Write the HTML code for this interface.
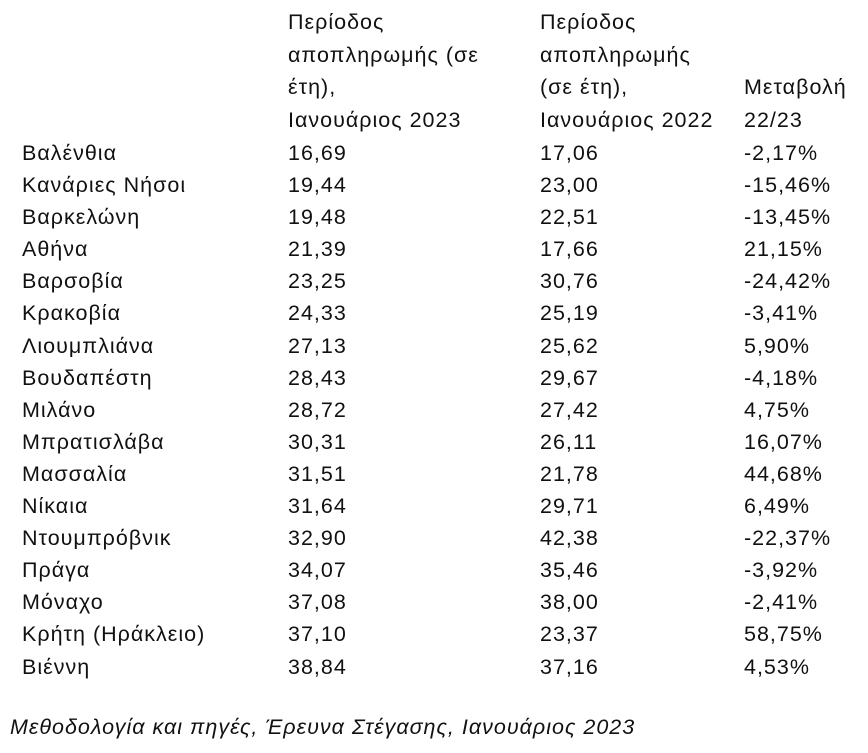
<!DOCTYPE html>
<html><head><meta charset="utf-8"><style>
html,body{margin:0;padding:0;background:#fff;width:868px;height:753px;overflow:hidden}
body{position:relative;font-family:"Liberation Sans","DejaVu Sans",sans-serif;font-size:21.5px;letter-spacing:1px;color:#111}
.t{position:absolute;white-space:nowrap;line-height:32px}
.h{line-height:32.5px}
.rows{position:absolute;top:137px;left:0;width:868px}
.r{height:32.1px;line-height:32px;position:relative}
.r span{position:absolute;white-space:nowrap}
.c1{left:22px}.c2{left:288px}.c3{left:540px}.c4{left:744px}
.f{position:absolute;left:10px;top:711px;font-style:italic;line-height:32px}
</style></head><body>
<div class="t h" style="left:288px;top:6px">Περίοδος<br>αποπληρωμής (σε<br>έτη),<br>Ιανουάριος 2023</div>
<div class="t h" style="left:540px;top:6px">Περίοδος<br>αποπληρωμής<br>(σε έτη),<br>Ιανουάριος 2022</div>
<div class="t h" style="left:744px;top:71px">Μεταβολή<br>22/23</div>
<div class="rows">
<div class="r"><span class="c1">Βαλένθια</span><span class="c2">16,69</span><span class="c3">17,06</span><span class="c4">-2,17%</span></div>
<div class="r"><span class="c1">Κανάριες Νήσοι</span><span class="c2">19,44</span><span class="c3">23,00</span><span class="c4">-15,46%</span></div>
<div class="r"><span class="c1">Βαρκελώνη</span><span class="c2">19,48</span><span class="c3">22,51</span><span class="c4">-13,45%</span></div>
<div class="r"><span class="c1">Αθήνα</span><span class="c2">21,39</span><span class="c3">17,66</span><span class="c4">21,15%</span></div>
<div class="r"><span class="c1">Βαρσοβία</span><span class="c2">23,25</span><span class="c3">30,76</span><span class="c4">-24,42%</span></div>
<div class="r"><span class="c1">Κρακοβία</span><span class="c2">24,33</span><span class="c3">25,19</span><span class="c4">-3,41%</span></div>
<div class="r"><span class="c1">Λιουμπλιάνα</span><span class="c2">27,13</span><span class="c3">25,62</span><span class="c4">5,90%</span></div>
<div class="r"><span class="c1">Βουδαπέστη</span><span class="c2">28,43</span><span class="c3">29,67</span><span class="c4">-4,18%</span></div>
<div class="r"><span class="c1">Μιλάνο</span><span class="c2">28,72</span><span class="c3">27,42</span><span class="c4">4,75%</span></div>
<div class="r"><span class="c1">Μπρατισλάβα</span><span class="c2">30,31</span><span class="c3">26,11</span><span class="c4">16,07%</span></div>
<div class="r"><span class="c1">Μασσαλία</span><span class="c2">31,51</span><span class="c3">21,78</span><span class="c4">44,68%</span></div>
<div class="r"><span class="c1">Νίκαια</span><span class="c2">31,64</span><span class="c3">29,71</span><span class="c4">6,49%</span></div>
<div class="r"><span class="c1">Ντουμπρόβνικ</span><span class="c2">32,90</span><span class="c3">42,38</span><span class="c4">-22,37%</span></div>
<div class="r"><span class="c1">Πράγα</span><span class="c2">34,07</span><span class="c3">35,46</span><span class="c4">-3,92%</span></div>
<div class="r"><span class="c1">Μόναχο</span><span class="c2">37,08</span><span class="c3">38,00</span><span class="c4">-2,41%</span></div>
<div class="r"><span class="c1">Κρήτη (Ηράκλειο)</span><span class="c2">37,10</span><span class="c3">23,37</span><span class="c4">58,75%</span></div>
<div class="r"><span class="c1">Βιέννη</span><span class="c2">38,84</span><span class="c3">37,16</span><span class="c4">4,53%</span></div>
</div>
<div class="f">Μεθοδολογία και πηγές, Έρευνα Στέγασης, Ιανουάριος 2023</div>
</body></html>
